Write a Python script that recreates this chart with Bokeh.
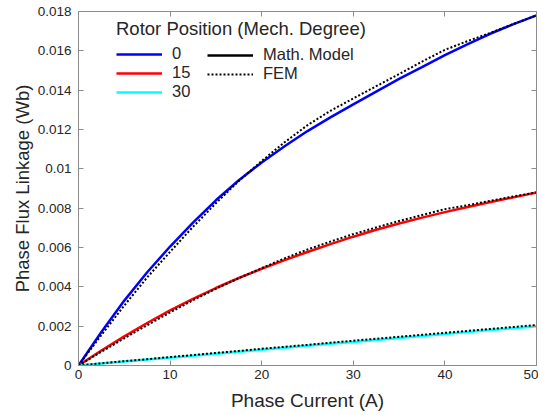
from bokeh.plotting import figure
from bokeh.models import (LinearAxis, FixedTicker, CustomJSTickFormatter, Legend, LegendItem, Range1d)
from bokeh.embed import file_html
from bokeh.resources import INLINE

current = [0, 2.5, 5, 7.5, 10, 12.5, 15, 17.5, 20, 22.5, 25, 27.5, 30, 32.5, 35, 37.5, 40, 42.5, 45, 47.5, 50]

blue_math = [0, 0.00170, 0.00330, 0.00474, 0.00605, 0.00727, 0.00840, 0.00942, 0.01032, 0.01115, 0.01192, 0.01262, 0.01328, 0.01393, 0.01457, 0.01517, 0.01578, 0.01634, 0.01688, 0.01736, 0.01780]
blue_fem = [0, 0.00155, 0.00305, 0.00448, 0.00578, 0.00705, 0.00825, 0.00938, 0.01040, 0.01135, 0.01222, 0.01295, 0.01358, 0.01420, 0.01482, 0.01545, 0.01605, 0.01650, 0.01692, 0.01737, 0.01780]
red_math = [0, 0.00076, 0.00148, 0.00216, 0.00280, 0.00339, 0.00394, 0.00445, 0.00492, 0.00536, 0.00577, 0.00617, 0.00655, 0.00690, 0.00722, 0.00752, 0.00780, 0.00806, 0.00831, 0.00855, 0.00880]
red_fem = [0, 0.00070, 0.00138, 0.00205, 0.00270, 0.00332, 0.00390, 0.00444, 0.00495, 0.00545, 0.00590, 0.00630, 0.00668, 0.00702, 0.00735, 0.00765, 0.00795, 0.00815, 0.00838, 0.00860, 0.00880]
cyan_math = [0, 0.00010, 0.00020, 0.00030, 0.00040, 0.00050, 0.00060, 0.00070, 0.00080, 0.00090, 0.00100, 0.00110, 0.00120, 0.00130, 0.00140, 0.00150, 0.00160, 0.00170, 0.00180, 0.00190, 0.00200]
cyan_fem = [0, 0.00011, 0.00022, 0.00032, 0.00043, 0.00053, 0.00064, 0.00074, 0.00085, 0.00095, 0.00105, 0.00116, 0.00126, 0.00136, 0.00146, 0.00156, 0.00166, 0.00176, 0.00186, 0.00196, 0.00206]

positions = ["0", "15", "30"]
colors = ["#0000ff", "#ff0000", "#00ffff"]

x_ticks = [0, 10, 20, 30, 40, 50]
y_ticks = [0, 0.002, 0.004, 0.006, 0.008, 0.01, 0.012, 0.014, 0.016, 0.018]

FONT = "Liberation Sans"
AX = "#8c8c8c"
TXT = "#262626"

p = figure(frame_width=458, frame_height=354, output_backend="svg", toolbar_location=None,
           x_range=Range1d(0, 50), y_range=Range1d(0, 0.018),
           min_border_left=78, min_border_right=2, min_border_top=11, min_border_bottom=40,
           x_axis_label="Phase Current (A)", y_axis_label="Phase Flux Linkage (Wb)")
p.outline_line_color = None
p.xgrid.visible = False
p.ygrid.visible = False

fmt = CustomJSTickFormatter(code="""
var s = tick.toFixed(3);
if (s.indexOf('.') >= 0) { s = s.replace(/0+$/, '').replace(/\\.$/, ''); }
return s;
""")

def style_axis(ax, labels=True):
    ax.axis_line_color = AX
    ax.major_tick_line_color = AX
    ax.minor_tick_line_color = None
    ax.major_tick_in = 5
    ax.major_tick_out = 0
    ax.major_label_text_font = FONT
    ax.major_label_text_font_size = "13.5px"
    ax.major_label_text_color = TXT
    ax.axis_label_text_font = FONT
    ax.axis_label_text_font_size = "19px"
    ax.axis_label_text_font_style = "normal"
    ax.axis_label_text_color = TXT
    if not labels:
        ax.major_label_text_alpha = 0
        ax.major_label_text_font_size = "1px"

p.xaxis.ticker = FixedTicker(ticks=x_ticks)
p.yaxis.ticker = FixedTicker(ticks=y_ticks)
p.yaxis.formatter = fmt
style_axis(p.xaxis[0])
style_axis(p.yaxis[0])
p.yaxis.axis_label_text_font_size = "18.5px"
p.xaxis.major_label_standoff = 4
p.xaxis.axis_label_standoff = 8
p.yaxis.major_label_standoff = 7
p.yaxis.axis_label_standoff = 2

top = LinearAxis(ticker=FixedTicker(ticks=x_ticks))
right = LinearAxis(ticker=FixedTicker(ticks=y_ticks))
style_axis(top, labels=False)
style_axis(right, labels=False)
top.major_label_standoff = 0
right.major_label_standoff = 0
p.add_layout(top, "above")
p.add_layout(right, "right")

math_series = [blue_math, red_math, cyan_math]
fem_series = [blue_fem, red_fem, cyan_fem]

pos_items = []
for name, col, ym in zip(positions, colors, math_series):
    r = p.line(current, ym, line_color=col, line_width=2.5)
    pos_items.append(LegendItem(label=name, renderers=[r]))
fem_renderers = []
for yf in fem_series:
    fem_renderers.append(p.line(current, yf, line_color="black", line_width=2, line_dash="2 2"))

# legend-only key for the model line style (hidden renderer, shown normally in legend)
r_math = p.line(current, blue_math, line_color="black", line_width=2.5, visible=False)

def style_legend(lg):
    lg.padding = 0
    lg.margin = 0
    lg.spacing = 0
    lg.border_line_alpha = 0
    lg.background_fill_alpha = 0
    lg.inactive_fill_alpha = 0
    lg.glyph_width = 46
    lg.glyph_height = 18
    lg.label_height = 18
    lg.label_standoff = 10
    lg.label_text_font = FONT
    lg.label_text_font_size = "16.5px"
    lg.label_text_color = TXT
    lg.label_text_baseline = "middle"
    lg.click_policy = "none"

leg1 = Legend(items=pos_items, location=(38, 264), title="Rotor Position (Mech. Degree)")
style_legend(leg1)
leg1.title_text_font = FONT
leg1.title_text_font_size = "18.5px"
leg1.title_text_font_style = "normal"
leg1.title_text_color = TXT
leg1.title_standoff = 4

leg2 = Legend(items=[LegendItem(label="Math. Model", renderers=[r_math]),
                     LegendItem(label="FEM", renderers=[fem_renderers[0]])], location=(129, 282))
style_legend(leg2)

p.add_layout(leg1, "center")
p.add_layout(leg2, "center")

open("out.html", "w").write(file_html(p, INLINE))
